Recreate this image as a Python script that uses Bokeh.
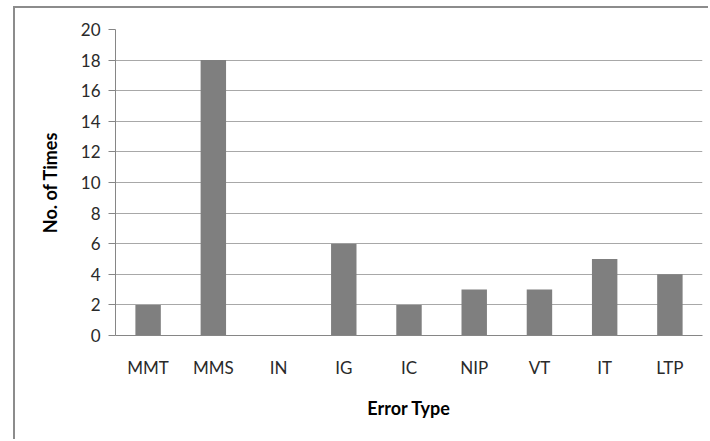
from bokeh.plotting import figure
from bokeh.models import Range1d, FactorRange, ColumnDataSource, FixedTicker
from bokeh.embed import file_html
from bokeh.resources import INLINE

categories = ["MMT", "MMS", "IN", "IG", "IC", "NIP", "VT", "IT", "LTP"]
counts = [2, 18, 0, 6, 2, 3, 3, 5, 4]
y_ticks = [0, 2, 4, 6, 8, 10, 12, 14, 16, 18, 20]

FONT = "Lato"
GRAY_AXIS = "#868686"
GRAY_GRID = "#a8a8a8"

src = ColumnDataSource(dict(cat=categories, val=counts))

p = figure(width=695, height=433,
           x_range=FactorRange(*categories, range_padding=0),
           y_range=Range1d(0, 20),
           output_backend="svg", toolbar_location=None,
           min_border_left=100, min_border_right=8,
           min_border_top=21, min_border_bottom=106)

p.styles = {"margin-left": "13px", "margin-top": "6px",
            "border-left": "2px solid #8c8c8c", "border-top": "2px solid #8c8c8c"}

p.vbar(x="cat", top="val", width=0.39, source=src,
       fill_color="#7f7f7f", line_color=None)

p.outline_line_color = None
p.background_fill_color = "white"
p.border_fill_color = "white"

p.xgrid.grid_line_color = None
p.ygrid.grid_line_color = GRAY_GRID
p.ygrid.grid_line_width = 1
p.yaxis.ticker = FixedTicker(ticks=y_ticks)
p.yaxis.minor_tick_line_color = None

for ax in (p.xaxis[0], p.yaxis[0]):
    ax.axis_line_color = GRAY_AXIS
    ax.major_tick_line_color = GRAY_AXIS
    ax.major_label_text_font = FONT
    ax.major_label_text_font_size = "17px"
    ax.major_label_text_color = "#2a2a2a"
    ax.axis_label_text_font = FONT
    ax.axis_label_text_font_size = "18px"
    ax.axis_label_text_font_style = "bold"
    ax.axis_label_text_color = "#000000"

p.yaxis.major_tick_out = 7
p.yaxis.major_tick_in = 0
p.yaxis.major_label_standoff = 8
p.yaxis.axis_label = "No. of Times"
p.yaxis.axis_label_standoff = 17

p.xaxis.major_tick_out = 0
p.xaxis.major_tick_in = 0
p.xaxis.major_label_standoff = 21
p.xaxis.axis_label = "Error Type"
p.xaxis.axis_label_standoff = 16

open("out.html", "w").write(file_html(p, INLINE))
